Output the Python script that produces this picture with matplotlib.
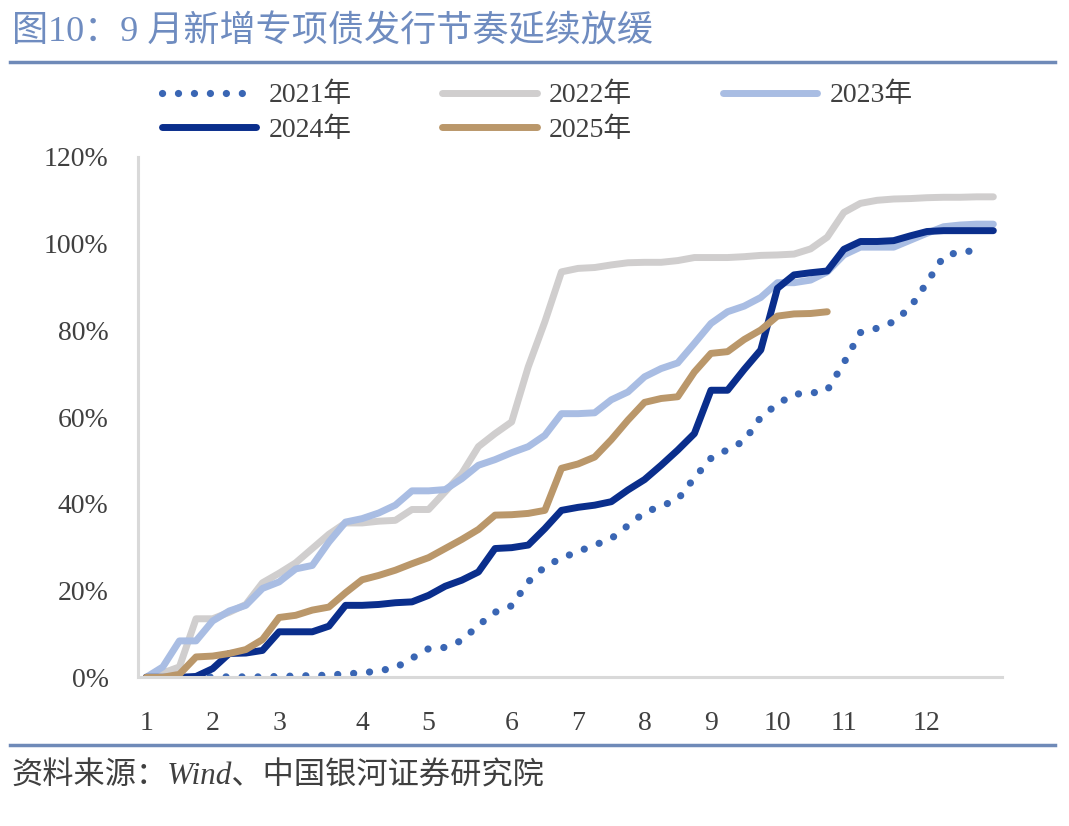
import matplotlib
matplotlib.use('Agg')
import matplotlib.pyplot as plt

plt.rcParams['font.family'] = ['Liberation Serif', 'Noto Sans CJK SC', 'DejaVu Sans']

# weekly cumulative issuance progress (%), week index 0..51
y2021 = [0, 0, 0, 0, 0.1, 0.1, 0.1, 0.1, 0.2, 0.3, 0.4, 0.5, 0.8, 1.0,
         1.5, 2.2, 4.4, 6.6, 6.9, 8.5, 12.0, 15.0, 16.5, 22.0, 25.5, 27.5, 29.0,
         30.5, 32.0, 35.0, 38.0, 39.5, 41.0, 46.0, 50.5, 52.5, 54.5, 60.0, 63.0, 65.3,
         65.5, 66.2, 72.5, 79.5, 80.5, 82.0, 85.3, 91.0, 97.0, 98.2, 98.3]
y2022 = [0, 1.0, 2.4, 13.5, 13.5, 15.0, 16.8, 21.8, 24.0, 26.4, 29.7, 33.0, 35.6, 35.6,
         36.0, 36.2, 38.7, 38.7, 42.8, 47.0, 53.2, 56.2, 58.9, 71.6, 82.0, 93.5, 94.3,
         94.5, 95.1, 95.6, 95.7, 95.7, 96.1, 96.8, 96.8, 96.8, 97.0, 97.3, 97.4, 97.6,
         98.8, 101.5, 107.2, 109.3, 110.0, 110.3, 110.4, 110.6, 110.7, 110.7, 110.8, 110.8]
y2023 = [0, 2.4, 8.4, 8.4, 13.0, 15.3, 16.6, 20.5, 22.0, 25.0, 25.8, 31.2, 35.8, 36.6,
         37.9, 39.7, 43.0, 43.0, 43.3, 45.8, 48.9, 50.2, 51.8, 53.2, 55.8, 60.8, 60.8,
         61.0, 64.0, 65.8, 69.3, 71.2, 72.5, 77.0, 81.6, 84.3, 85.6, 87.6, 91.0, 91.0,
         91.6, 93.5, 97.4, 99.2, 99.2, 99.2, 100.8, 102.4, 103.9, 104.3, 104.5, 104.5]
y2024 = [0, 0, 0, 0.2, 2.0, 5.5, 5.6, 6.2, 10.5, 10.5, 10.5, 11.8, 16.6, 16.6,
         16.8, 17.2, 17.4, 18.9, 21.0, 22.4, 24.3, 29.7, 29.9, 30.5, 34.3, 38.5, 39.2,
         39.7, 40.5, 43.2, 45.6, 48.9, 52.4, 56.2, 66.2, 66.2, 71.0, 75.5, 89.7, 92.8,
         93.3, 93.7, 98.7, 100.5, 100.5, 100.7, 101.8, 102.8, 103.0, 103.0, 103.0, 103.0]
y2025 = [0, 0, 0.7, 4.7, 4.9, 5.5, 6.4, 8.7, 13.8, 14.3, 15.5, 16.2, 19.5, 22.5,
         23.5, 24.7, 26.2, 27.6, 29.7, 31.8, 34.1, 37.4, 37.5, 37.8, 38.5, 48.2, 49.2,
         50.8, 54.8, 59.3, 63.4, 64.3, 64.7, 70.4, 74.7, 75.1, 77.9, 80.1, 83.3, 83.8,
         83.9, 84.3]

month_pos = [0, 4, 8, 13, 17, 22, 26, 30, 34, 38, 42, 47]
month_labels = ['1', '2', '3', '4', '5', '6', '7', '8', '9', '10', '11', '12']
yticks = [0, 20, 40, 60, 80, 100, 120]

fig = plt.figure(figsize=(10.69, 8.26), dpi=100)
ax = fig.add_axes([0.129, 0.180, 0.808, 0.630])

l21, = ax.plot(range(len(y2021)), y2021, color='#3A66B4', lw=5.2,
               linestyle=(0, (0.01, 2.2)), dash_capstyle='round', label='2021年')
l22, = ax.plot(range(len(y2022)), y2022, color='#D0CECE', lw=5, solid_capstyle='round', label='2022年')
l23, = ax.plot(range(len(y2023)), y2023, color='#A9BDE3', lw=5, solid_capstyle='round', label='2023年')
l24, = ax.plot(range(len(y2024)), y2024, color='#0A2E8C', lw=5, solid_capstyle='round', label='2024年')
l25, = ax.plot(range(len(y2025)), y2025, color='#BA976A', lw=5, solid_capstyle='round', label='2025年')

ax.set_xlim(-0.5, 51.5)
ax.set_ylim(0, 120)
ax.set_xticks(month_pos)
ax.set_xticklabels(month_labels)
ax.set_yticks(yticks)
ax.set_yticklabels([f'{v}%' for v in yticks])
ax.tick_params(axis='both', length=0, labelsize=20, colors='#404040')
ax.tick_params(axis='x', pad=24)
ax.tick_params(axis='y', pad=21)
for s in ['top', 'right']:
    ax.spines[s].set_visible(False)
for s in ['left', 'bottom']:
    ax.spines[s].set_color('#D9D9D9')
    ax.spines[s].set_linewidth(2.2)

# order so that the column-wise fill reads row-wise
handles = [l21, l24, l22, l25, l23]
fig.legend(handles, [h.get_label() for h in handles], loc='upper left',
           bbox_to_anchor=(0.128, 0.93), ncol=3, frameon=False,
           fontsize=20, handlelength=3.4, handletextpad=0.45, columnspacing=3.25,
           labelspacing=0.33, labelcolor='#404040')

fig.text(0.011, 0.961, '图10：9 月新增专项债发行节奏延续放缓', fontsize=26,
         color='#6F8CC0', va='center', ha='left')
fig.add_artist(plt.Line2D([0.009, 0.987], [0.925, 0.925], color='#6F8AB8', lw=2.5))
fig.add_artist(plt.Line2D([0.009, 0.987], [0.098, 0.098], color='#6F8AB8', lw=2.5))
fig.text(0.011, 0.060, '资料来源：Wind、中国银河证券研究院', fontsize=22.5, style='italic',
         color='#404040', va='center', ha='left')

fig.savefig('out.png', dpi=100)
